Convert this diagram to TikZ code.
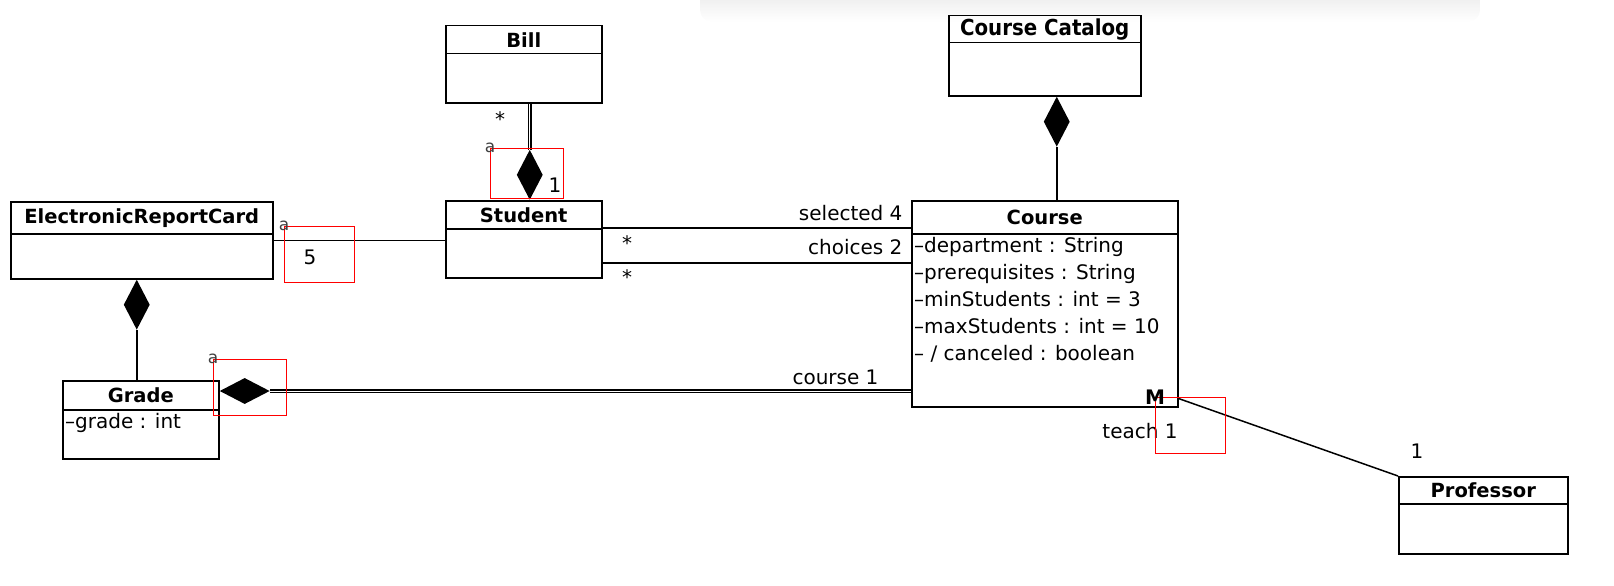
\documentclass[tikz,border=0pt]{standalone}
\usepackage{fontspec}
\setmainfont{DejaVu Sans}
\usetikzlibrary{shapes.geometric}
\tikzstyle{classbox} = [rectangle, draw=black, line width=1.5pt, anchor=north west, inner sep=0pt]
\tikzstyle{classhead} = [rectangle, draw=black, line width=1.5pt, anchor=north west, inner sep=0pt, font=\fontsize{19.5}{22}\selectfont\bfseries]
\tikzstyle{attrs} = [anchor=north west, align=left, inner sep=3pt, font=\fontsize{20}{27}\selectfont]
\tikzstyle{compov} = [diamond, fill=black, inner sep=0pt, minimum width=26pt, minimum height=50pt]
\tikzstyle{compoh} = [diamond, fill=black, inner sep=0pt, minimum width=50pt, minimum height=26pt]
\tikzstyle{selbox} = [rectangle, draw=red, line width=1.2pt, anchor=north west, inner sep=0pt]
\tikzstyle{handle} = [inner sep=0pt, text=black!75, font=\fontsize{17}{17}\selectfont]
\tikzstyle{edge} = [line width=1.5pt]
\tikzstyle{twin} = [double, double distance=1pt, line width=1.6pt]

\begin{document}
\begin{tikzpicture}[x=1pt, y=-1pt, font=\fontsize{20}{22}\selectfont]
\useasboundingbox (0,0) rectangle (1614,586);
\shade [top color=black!9, bottom color=white, rounded corners=12pt] (700,-12) rectangle (1480,22);

% classes
\node (bill) [classbox, minimum width=156pt, minimum height=77pt] at (445,25) {};
\node (billh) [classhead, minimum width=156pt, minimum height=28pt] at (bill.north west) {Bill};
\node (catalog) [classbox, minimum width=192pt, minimum height=80pt] at (948,15) {};
\node (catalogh) [classhead, minimum width=192pt, minimum height=27pt, font=\fontsize{22}{22}\selectfont\fontspec{DejaVu Sans Condensed}\bfseries] at (catalog.north west) {Course Catalog};
\node (erc) [classbox, minimum width=262pt, minimum height=77pt] at (10,201) {};
\node (erch) [classhead, minimum width=262pt, minimum height=32pt] at (erc.north west) {ElectronicReportCard};
\node (student) [classbox, minimum width=156pt, minimum height=77pt] at (445,200) {};
\node (studenth) [classhead, minimum width=156pt, minimum height=28pt] at (student.north west) {Student};
\node (course) [classbox, minimum width=266pt, minimum height=206pt] at (911,200) {};
\node (courseh) [classhead, minimum width=266pt, minimum height=33pt] at (course.north west) {Course};
\node (courseattr) [attrs] at (courseh.south west) {--department : String\\--prerequisites : String\\--minStudents : int = 3\\--maxStudents : int = 10\\-- / canceled : boolean};
\node (grade) [classbox, minimum width=156pt, minimum height=78pt] at (62,380) {};
\node (gradeh) [classhead, minimum width=156pt, minimum height=29pt] at (grade.north west) {Grade};
\node (gradeattr) [attrs] at (gradeh.south west) {--grade : int};
\node (prof) [classbox, minimum width=169pt, minimum height=77pt] at (1398,476) {};
\node (profh) [classhead, minimum width=169pt, minimum height=27pt] at (prof.north west) {Professor};

% composition diamonds
\node (billdia) [compov, anchor=south, xshift=6pt] at (student.north) {};
\node (ercdia) [compov, anchor=north, xshift=-5pt] at (erc.south) {};
\node (gradedia) [compoh, anchor=west] at ([yshift=-11pt]grade.north east) {};
\node (catdia) [compov, anchor=north, xshift=12pt] at (catalog.south) {};

% connectors
\draw [twin] (billdia.north) -- (billdia.north |- bill.south);
\draw [edge] (ercdia.south) -- (ercdia.south |- grade.north);
\draw [twin] (gradedia.east) -- (gradedia.east -| course.west);
\draw [edge] (catdia.south) -- (catdia.south |- course.north);
\draw [edge] (erc.east) -- (erc.east -| student.west);
\draw [edge] ([yshift=-28pt]student.north east) -- ([yshift=-28pt]student.north east -| course.west);
\draw [edge] ([yshift=-63pt]student.north east) -- ([yshift=-63pt]student.north east -| course.west);
\draw [edge] ([yshift=9pt]course.south east) -- (prof.north west);

% association labels
\node (billmul) at (500,119) {*};
\node (studmul) at (555,185) {1};
\node (ercmul) at (310,257) {5};
\node (selmul) [anchor=east] at (906,213) {selected 4};
\node (selstar) at (627,243) {*};
\node (chomul) [anchor=east] at (906,247) {choices 2};
\node (chostar) at (627,277) {*};
\node (coursemul) [anchor=east] at (882,377) {course 1};
\node (teachmul) at (1140,431) {teach 1};
\node (profmul) at (1417,451) {1};

% selection markers
\node (sel1) [selbox, minimum width=73pt, minimum height=50pt] at (490,148) {};
\node (sel2) [selbox, minimum width=70pt, minimum height=56pt] at (284,226) {};
\node (sel3) [selbox, minimum width=73pt, minimum height=56pt] at (213,359) {};
\node (sel4) [selbox, minimum width=70pt, minimum height=56pt] at (1155,397) {};
\node (hnd1) [handle] at (sel1.north west) {a};
\node (hnd2) [handle] at (sel2.north west) {a};
\node (hnd3) [handle] at (sel3.north west) {a};
\node (hnd4) [inner sep=0pt, font=\fontsize{20}{20}\selectfont\bfseries] at (sel4.north west) {M};

\end{tikzpicture}
\end{document}
